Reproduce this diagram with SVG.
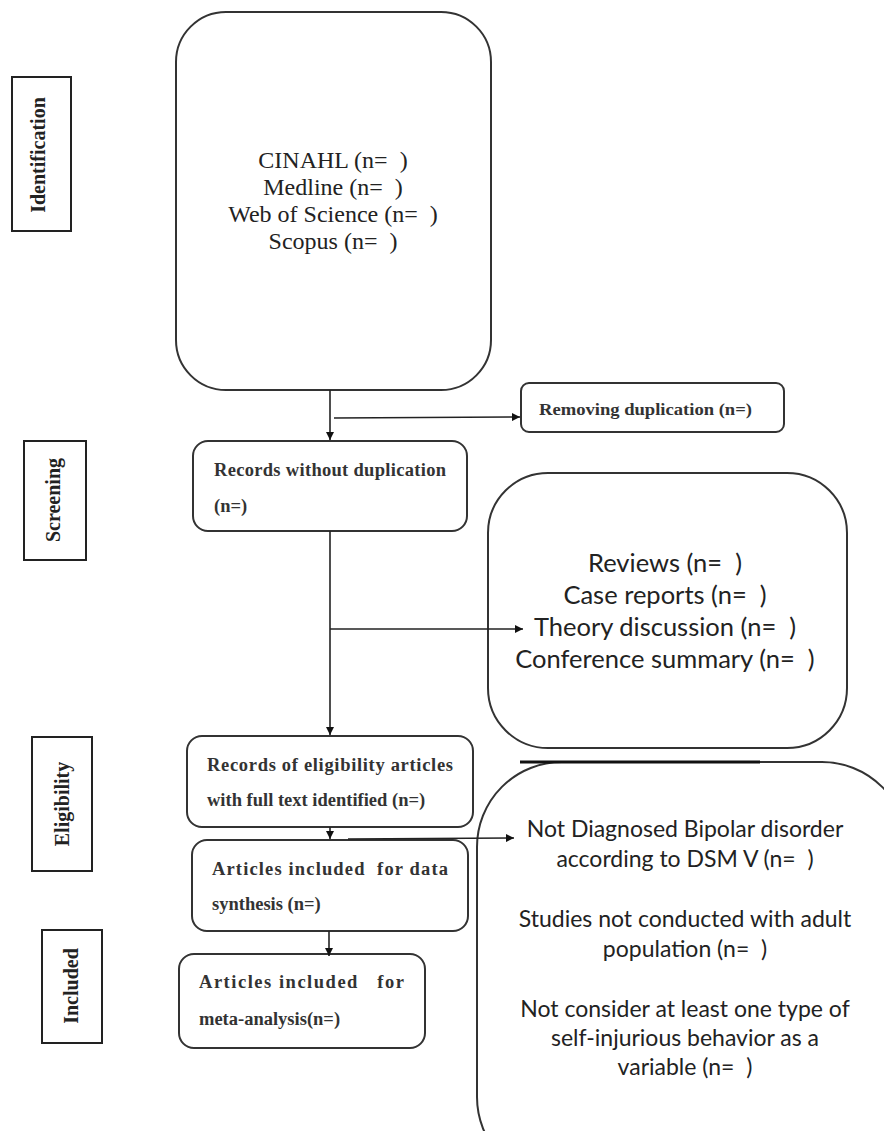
<svg xmlns="http://www.w3.org/2000/svg" width="884" height="1131" viewBox="0 0 884 1131">
<style>
text{white-space:pre}
.box{fill:#fff;stroke:#333;stroke-width:2}
.lbl{fill:#fff;stroke:#222;stroke-width:2}
.lt{font-family:"Liberation Serif",serif;font-weight:bold;font-size:20px;fill:#222;text-anchor:middle}
.st{font-family:"Liberation Serif",serif;font-weight:bold;font-size:18.5px;fill:#333}
.bt{font-family:"Liberation Serif",serif;font-size:24px;fill:#222;text-anchor:middle}
.ct{font-family:Lato,"Open Sans",sans-serif;font-size:25.5px;fill:#222;text-anchor:middle}
.ct2{font-family:Lato,"Open Sans",sans-serif;font-size:23px;fill:#222;text-anchor:middle}
.ln{stroke:#222;stroke-width:1.6;fill:none}
</style>
<defs>
<marker id="ah" viewBox="0 0 10 10" refX="10" refY="5" markerWidth="8" markerHeight="8" markerUnits="userSpaceOnUse" orient="auto">
<path d="M0,0 L10,5 L0,10 z" fill="#111"/>
</marker>
</defs>
<rect width="884" height="1131" fill="#fff"/>

<g id="stage-identification"><rect class="lbl" x="12" y="77" width="59" height="154"/><text class="lt" transform="translate(45,155) rotate(-90)">Identification</text></g>
<g id="stage-screening"><rect class="lbl" x="24" y="441" width="62" height="119"/><text class="lt" transform="translate(60,500) rotate(-90)">Screening</text></g>
<g id="stage-eligibility"><rect class="lbl" x="32" y="737" width="60" height="134"/><text class="lt" transform="translate(69,804) rotate(-90)">Eligibility</text></g>
<g id="stage-included"><rect class="lbl" x="42" y="930" width="60" height="113"/><text class="lt" transform="translate(78,986) rotate(-90)">Included</text></g>

<g id="databases"><rect class="box" x="176" y="12" width="315" height="378" rx="50"/>
<text class="bt" x="333" y="168">CINAHL (n=  )</text>
<text class="bt" x="333" y="195">Medline (n=  )</text>
<text class="bt" x="333" y="222">Web of Science (n=  )</text>
<text class="bt" x="333" y="249">Scopus (n=  )</text></g>

<g id="removing"><rect class="box" x="521" y="383" width="263" height="49" rx="8"/>
<text class="st" x="539" y="415" style="font-size:17px" textLength="213" lengthAdjust="spacingAndGlyphs">Removing duplication (n=)</text></g>

<g id="records"><rect class="box" x="193" y="441" width="274" height="90" rx="15"/>
<text class="st" x="214" y="476" textLength="232" lengthAdjust="spacing">Records without duplication</text>
<text class="st" x="214" y="512">(n=)</text></g>

<g id="excluded1"><rect class="box" x="488" y="473" width="359" height="275" rx="60"/>
<text class="ct" x="665" y="572">Reviews (n=  )</text>
<text class="ct" x="665" y="604">Case reports (n=  )</text>
<text class="ct" x="665" y="636">Theory discussion (n=  )</text>
<text class="ct" x="665" y="668">Conference summary (n=  )</text></g>

<g id="eligible"><rect class="box" x="187" y="736" width="286" height="91" rx="15"/>
<text class="st" x="207" y="771" textLength="246" lengthAdjust="spacing">Records of eligibility articles</text>
<text class="st" x="207" y="806">with full text identified (n=)</text></g>

<g id="synthesis"><rect class="box" x="192" y="840" width="276" height="91" rx="15"/>
<text class="st" x="212" y="875" textLength="236" lengthAdjust="spacing">Articles included  for data</text>
<text class="st" x="212" y="910">synthesis (n=)</text></g>

<g id="meta"><rect class="box" x="179" y="954" width="246" height="94" rx="15"/>
<text class="st" x="199" y="988" textLength="205" lengthAdjust="spacing">Articles included   for</text>
<text class="st" x="199" y="1025">meta-analysis(n=)</text></g>

<g id="excluded2"><rect class="box" x="477" y="762" width="430" height="420" rx="85"/>
<line x1="520" y1="762" x2="760" y2="762" stroke="#111" stroke-width="3"/>
<text class="ct2" x="685" y="837">Not Diagnosed Bipolar disorder</text>
<text class="ct2" x="685" y="867">according to DSM V (n=  )</text>
<text class="ct2" x="685" y="927">Studies not conducted with adult</text>
<text class="ct2" x="685" y="957">population (n=  )</text>
<text class="ct2" x="685" y="1017">Not consider at least one type of</text>
<text class="ct2" x="685" y="1046">self-injurious behavior as a</text>
<text class="ct2" x="685" y="1075">variable (n=  )</text></g>

<g id="connectors">
<line class="ln" x1="330" y1="390" x2="330" y2="440" marker-end="url(#ah)"/>
<line class="ln" x1="334" y1="418" x2="520" y2="417" marker-end="url(#ah)"/>
<line class="ln" x1="330" y1="531" x2="330" y2="735" marker-end="url(#ah)"/>
<line class="ln" x1="330" y1="629" x2="523" y2="629" marker-end="url(#ah)"/>
<line class="ln" x1="330" y1="827" x2="330" y2="839" marker-end="url(#ah)"/>
<line class="ln" x1="348" y1="839" x2="514" y2="838" marker-end="url(#ah)"/>
<line class="ln" x1="329" y1="931" x2="329" y2="956" marker-end="url(#ah)"/>
</g>
</svg>
